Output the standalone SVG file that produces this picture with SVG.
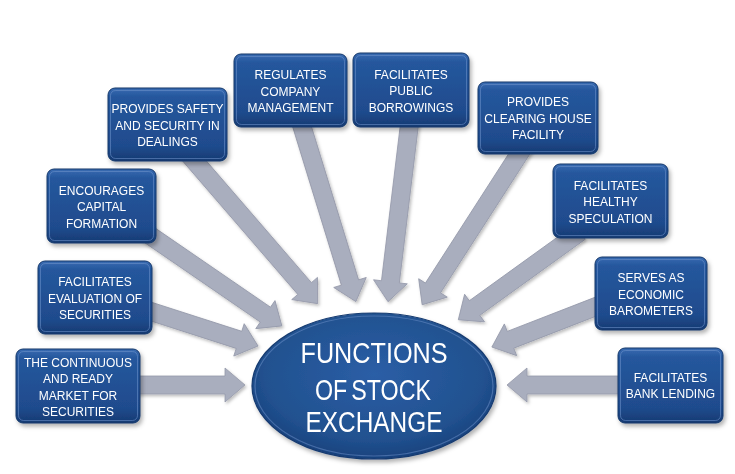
<svg xmlns="http://www.w3.org/2000/svg" width="735" height="474" viewBox="0 0 735 474">
<defs>
<style>
.box{fill:url(#boxGrad);stroke:#14386b;stroke-width:1}
.hl{fill:none;stroke:#6f93cc;stroke-opacity:0.55;stroke-width:1}
.t{font-family:"Liberation Sans",Arial,sans-serif;font-size:12px;fill:#ffffff;text-anchor:middle}
.big{font-family:"Liberation Sans",Arial,sans-serif;font-size:29px;fill:#ffffff;text-anchor:middle}
.arr{fill:#a9aebe;stroke:#9599aa;stroke-width:0.8}
</style>
<linearGradient id="boxGrad" x1="0" y1="0" x2="0" y2="1">
<stop offset="0" stop-color="#3a6cb2"/>
<stop offset="0.12" stop-color="#25579d"/>
<stop offset="0.8" stop-color="#1f4b8d"/>
<stop offset="1" stop-color="#163a72"/>
</linearGradient>
<radialGradient id="ellGrad" cx="0.5" cy="0.42" r="0.6">
<stop offset="0" stop-color="#2b5ea6"/>
<stop offset="0.75" stop-color="#21518f"/>
<stop offset="1" stop-color="#173f7a"/>
</radialGradient>
<filter id="sh" x="-20%" y="-20%" width="140%" height="140%">
<feDropShadow dx="2" dy="3" stdDeviation="2" flood-color="#000" flood-opacity="0.3"/>
</filter>
<filter id="ash" x="-20%" y="-20%" width="140%" height="140%">
<feDropShadow dx="1.5" dy="2" stdDeviation="1.5" flood-color="#000" flood-opacity="0.25"/>
</filter>
</defs>
<rect width="735" height="474" fill="#ffffff"/>

<g id="connectors" filter="url(#ash)">
<path class="arr" transform="translate(130,385) rotate(0)" d="M0,-9 H95 V-17 L115,0 L95,17 V9 H0 Z"/>
<path class="arr" transform="translate(140,308) rotate(17.85)" d="M0,-9 H104 V-17 L124,0 L104,17 V9 H0 Z"/>
<path class="arr" transform="translate(145,232) rotate(34.46)" d="M0,-9 H146 V-17 L166,0 L146,17 V9 H0 Z"/>
<path class="arr" transform="translate(185,150) rotate(49.19)" d="M0,-9 H183 V-17 L203,0 L183,17 V9 H0 Z"/>
<path class="arr" transform="translate(300,120) rotate(72.9)" d="M0,-9 H170 V-17 L190,0 L170,17 V9 H0 Z"/>
<path class="arr" transform="translate(410,120) rotate(96.9)" d="M0,-9 H163 V-17 L183,0 L163,17 V9 H0 Z"/>
<path class="arr" transform="translate(525,145) rotate(122.77)" d="M0,-9 H170 V-17 L190,0 L170,17 V9 H0 Z"/>
<path class="arr" transform="translate(580,232) rotate(144.2)" d="M0,-9 H130 V-17 L150,0 L130,17 V9 H0 Z"/>
<path class="arr" transform="translate(600,305) rotate(158.75)" d="M0,-9 H96 V-17 L116,0 L96,17 V9 H0 Z"/>
<path class="arr" transform="translate(625,385) rotate(180)" d="M0,-9 H98 V-17 L118,0 L98,17 V9 H0 Z"/>
</g>

<g id="n1" filter="url(#sh)">
<rect class="box" x="16" y="349" width="124" height="74" rx="7"/>
<rect class="hl" x="18.5" y="351.5" width="119" height="69" rx="5"/>
<text class="t" x="78" y="367">THE CONTINUOUS</text>
<text class="t" x="78" y="383.3">AND READY</text>
<text class="t" x="78" y="399.6">MARKET FOR</text>
<text class="t" x="78" y="416">SECURITIES</text>
</g>
<g id="n2" filter="url(#sh)">
<rect class="box" x="38" y="261" width="114" height="73" rx="7"/>
<rect class="hl" x="40.5" y="263.5" width="109" height="68" rx="5"/>
<text class="t" x="95" y="286">FACILITATES</text>
<text class="t" x="95" y="302.5">EVALUATION OF</text>
<text class="t" x="95" y="319">SECURITIES</text>
</g>
<g id="n3" filter="url(#sh)">
<rect class="box" x="47" y="169" width="109" height="74" rx="7"/>
<rect class="hl" x="49.5" y="171.5" width="104" height="69" rx="5"/>
<text class="t" x="101.5" y="194.5">ENCOURAGES</text>
<text class="t" x="101.5" y="211">CAPITAL</text>
<text class="t" x="101.5" y="227.5">FORMATION</text>
</g>
<g id="n4" filter="url(#sh)">
<rect class="box" x="108" y="88" width="119" height="73" rx="7"/>
<rect class="hl" x="110.5" y="90.5" width="114" height="68" rx="5"/>
<text class="t" x="167.5" y="113">PROVIDES SAFETY</text>
<text class="t" x="167.5" y="129.5">AND SECURITY IN</text>
<text class="t" x="167.5" y="146">DEALINGS</text>
</g>
<g id="n5" filter="url(#sh)">
<rect class="box" x="234" y="54" width="113" height="73" rx="7"/>
<rect class="hl" x="236.5" y="56.5" width="108" height="68" rx="5"/>
<text class="t" x="290.5" y="79">REGULATES</text>
<text class="t" x="290.5" y="95.5">COMPANY</text>
<text class="t" x="290.5" y="112">MANAGEMENT</text>
</g>
<g id="n6" filter="url(#sh)">
<rect class="box" x="353" y="53" width="116" height="74" rx="7"/>
<rect class="hl" x="355.5" y="55.5" width="111" height="69" rx="5"/>
<text class="t" x="411" y="78.5">FACILITATES</text>
<text class="t" x="411" y="95">PUBLIC</text>
<text class="t" x="411" y="111.5">BORROWINGS</text>
</g>
<g id="n7" filter="url(#sh)">
<rect class="box" x="478" y="82" width="120" height="72" rx="7"/>
<rect class="hl" x="480.5" y="84.5" width="115" height="67" rx="5"/>
<text class="t" x="538" y="106">PROVIDES</text>
<text class="t" x="538" y="122.5">CLEARING HOUSE</text>
<text class="t" x="538" y="139">FACILITY</text>
</g>
<g id="n8" filter="url(#sh)">
<rect class="box" x="553" y="164" width="115" height="74" rx="7"/>
<rect class="hl" x="555.5" y="166.5" width="110" height="69" rx="5"/>
<text class="t" x="610.5" y="189.5">FACILITATES</text>
<text class="t" x="610.5" y="206">HEALTHY</text>
<text class="t" x="610.5" y="222.5">SPECULATION</text>
</g>
<g id="n9" filter="url(#sh)">
<rect class="box" x="595" y="257" width="112" height="73" rx="7"/>
<rect class="hl" x="597.5" y="259.5" width="107" height="68" rx="5"/>
<text class="t" x="651" y="282">SERVES AS</text>
<text class="t" x="651" y="298.5">ECONOMIC</text>
<text class="t" x="651" y="315">BAROMETERS</text>
</g>
<g id="n10" filter="url(#sh)">
<rect class="box" x="618" y="348" width="105" height="75" rx="7"/>
<rect class="hl" x="620.5" y="350.5" width="100" height="70" rx="5"/>
<text class="t" x="670.5" y="381.5">FACILITATES</text>
<text class="t" x="670.5" y="398">BANK LENDING</text>
</g>

<g id="center" filter="url(#sh)">
<ellipse cx="374" cy="386" rx="122" ry="73" fill="url(#ellGrad)" stroke="#143a70" stroke-width="1.2"/>
<ellipse cx="374" cy="386" rx="119" ry="70" fill="none" stroke="#6f93cc" stroke-opacity="0.5" stroke-width="1.2"/>
<text class="big" x="374" y="363" textLength="147" lengthAdjust="spacingAndGlyphs">FUNCTIONS</text>
<text class="big" x="373" y="400" textLength="116" lengthAdjust="spacingAndGlyphs" word-spacing="-3">OF STOCK</text>
<text class="big" x="374" y="432" textLength="137" lengthAdjust="spacingAndGlyphs">EXCHANGE</text>
</g>
</svg>
